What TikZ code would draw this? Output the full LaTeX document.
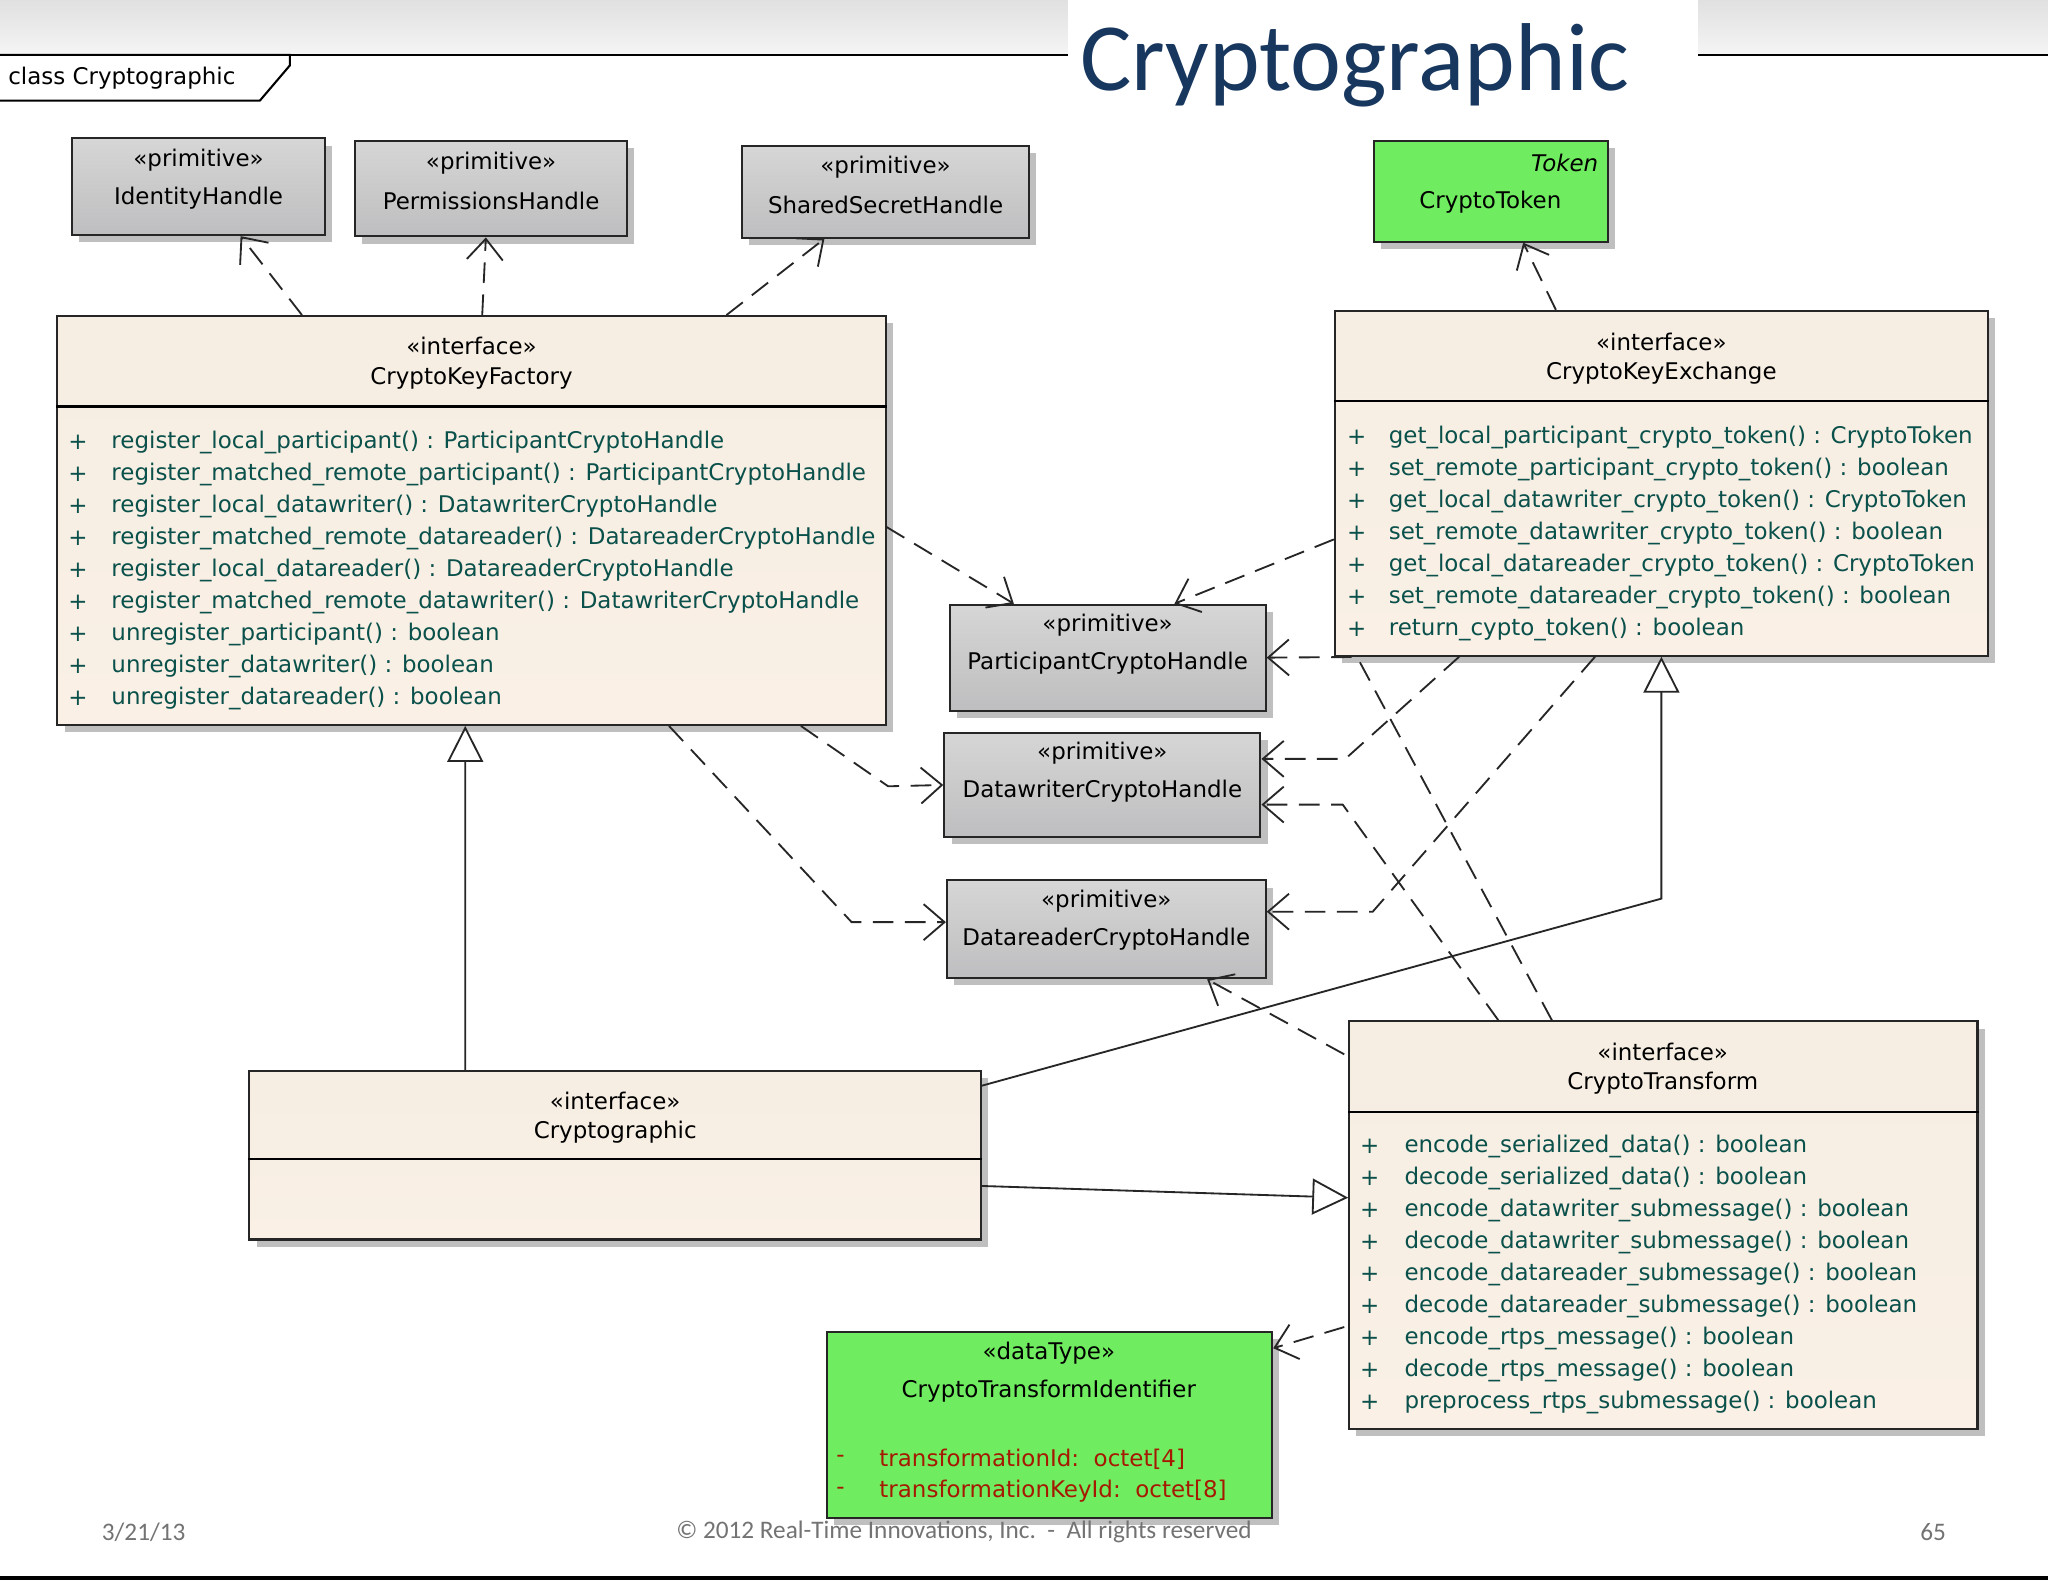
\documentclass[tikz,border=0pt]{standalone}
\usepackage{fontspec}
\setmainfont{DejaVu Sans}
\newfontfamily\slidefont{Carlito}
\usetikzlibrary{calc,arrows.meta,shadows}
\definecolor{titleblue}{RGB}{23,55,94}
\definecolor{primtop}{RGB}{214,214,214}
\definecolor{primbot}{RGB}{190,190,192}
\definecolor{ifacetop}{RGB}{246,238,226}
\definecolor{ifacebot}{RGB}{250,240,230}
\definecolor{tokgreen}{RGB}{112,236,96}
\definecolor{opcol}{RGB}{10,80,75}
\definecolor{attcol}{RGB}{165,25,0}
\tikzset{
  x=0.2mm, y=-0.2mm,
  cls/.style={draw=black!85, line width=0.9pt, inner sep=0pt,
    general shadow={fill=black!25, shadow xshift=1.1mm, shadow yshift=-1.1mm}},
  prim/.style={cls, top color=primtop, bottom color=primbot},
  iface/.style={cls, top color=ifacetop, bottom color=ifacebot},
  green/.style={cls, fill=tokgreen},
  lbl/.style={font=\fontsize{10}{12}\selectfont, inner sep=0pt},
  op/.style={lbl, text=opcol, anchor=west},
  att/.style={lbl, text=attcol, anchor=west},
  dep/.style={draw=black!85, line width=0.8pt, dash pattern=on 9pt off 5pt,
    -{Straight Barb[length=3.2mm,width=5.5mm,line width=0.8pt]}},
  real/.style={draw=black!85, line width=0.8pt,
    -{Triangle[open,length=5.5mm,width=5.5mm,fill=white]}}
}
% one row per operation: #1 x of sign, #2 x of text, #3 first y, #4 prefix, #5 sign, #6 style, #7 rows
\newcommand{\oplist}[7]{%
  \foreach \op [count=\i from 0] in {#7} {
    \node[#6] (#4s\i) at (#1,{#3+24.5*\i}) {#5};
    \node[#6] (#4t\i) at (#2,{#3+24.5*\i}) {\op};
  }}
\begin{document}
\begin{tikzpicture}
  \useasboundingbox (0,0) rectangle (1568,1211);
  \fill[white] (0,0) rectangle (1568,1211);
  \shade[top color=black!12, bottom color=black!4] (0,0) rectangle (1568,42);
  \draw[line width=1pt] (0,42) -- (1568,42);
  \draw[line width=2pt] (0,1208) -- (1568,1208);
  \fill[white] (818,0) rectangle (1300,88);
  \node[text=titleblue, font=\slidefont\fontsize{42}{46}\selectfont] (title)
    at (1037,50) {Cryptographic};

  % frame tab
  \draw[line width=0.9pt, fill=white] (0,42) -- (222,42) -- (222,50)
    -- (199,77) -- (0,77);
  \node[lbl, anchor=west] (frame) at (6,60) {class Cryptographic};

  % the classes
  \node[prim, minimum width=38.8mm, minimum height=14.8mm] (idh) at (152,143) {};
  \node[prim, minimum width=41.6mm, minimum height=14.6mm] (pmh) at (376,144.5) {};
  \node[prim, minimum width=44mm, minimum height=14mm] (ssh) at (678,147) {};
  \node[green, minimum width=35.8mm, minimum height=15.4mm] (ctok) at (1141.5,146.5) {};
  \node[iface, minimum width=126.8mm, minimum height=62.6mm] (ckf) at (361,398.5) {};
  \node[iface, minimum width=100mm, minimum height=52.8mm] (cke) at (1272,370) {};
  \node[prim, minimum width=48.4mm, minimum height=16.2mm] (pch) at (848,503.5) {};
  \node[prim, minimum width=48.4mm, minimum height=16mm] (dwch) at (844,601) {};
  \node[prim, minimum width=48.8mm, minimum height=15mm] (drch) at (847,711.5) {};
  \node[iface, minimum width=112mm, minimum height=25.8mm] (cgr) at (471,884.5) {};
  \node[iface, minimum width=96.2mm, minimum height=62.4mm] (ctr) at (1273.5,938) {};
  \node[green, minimum width=68.2mm, minimum height=28.4mm] (cti) at (803.5,1091) {};

  % compartments
  \draw[line width=0.9pt] ($(ckf.north west)+(0,70)$) -- ($(ckf.north east)+(0,70)$);
  \draw[line width=0.9pt] ($(cke.north west)+(0,70)$) -- ($(cke.north east)+(0,70)$);
  \draw[line width=0.9pt] ($(cgr.north west)+(0,68)$) -- ($(cgr.north east)+(0,68)$);
  \draw[line width=0.9pt] ($(ctr.north west)+(0,70)$) -- ($(ctr.north east)+(0,70)$);

  % headers
  \node[lbl] (idhs) at (152,123) {«primitive»};
  \node[lbl] (idhn) at (152,152) {IdentityHandle};
  \node[lbl] (pmhs) at (376,125) {«primitive»};
  \node[lbl] (pmhn) at (376,154) {PermissionsHandle};
  \node[lbl] (sshs) at (678,128) {«primitive»};
  \node[lbl] (sshn) at (678,157) {SharedSecretHandle};
  \node[lbl, anchor=east, font=\fontsize{10}{12}\selectfont\itshape] (ctoks)
    at (1224,125) {Token};
  \node[lbl] (ctokn) at (1141,155) {CryptoToken};
  \node[lbl] (ckfs) at (361,265) {«interface»};
  \node[lbl] (ckfn) at (361,290) {CryptoKeyFactory};
  \node[lbl] (ckes) at (1272,262) {«interface»};
  \node[lbl] (cken) at (1272,286) {CryptoKeyExchange};
  \node[lbl] (pchs) at (848,479) {«primitive»};
  \node[lbl] (pchn) at (848,508) {ParticipantCryptoHandle};
  \node[lbl] (dwchs) at (844,577) {«primitive»};
  \node[lbl] (dwchn) at (844,606) {DatawriterCryptoHandle};
  \node[lbl] (drchs) at (847,690) {«primitive»};
  \node[lbl] (drchn) at (847,719) {DatareaderCryptoHandle};
  \node[lbl] (cgrs) at (471,843) {«interface»};
  \node[lbl] (cgrn) at (471,867) {Cryptographic};
  \node[lbl] (ctrs) at (1273,805) {«interface»};
  \node[lbl] (ctrn) at (1273,829) {CryptoTransform};
  \node[lbl] (ctis) at (803,1036) {«dataType»};
  \node[lbl] (ctin) at (803,1065) {CryptoTransformIdentifier};

  % operations
  \oplist{52}{85}{339}{ckf}{+}{op}{
    register\_local\_participant() : ParticipantCryptoHandle,
    register\_matched\_remote\_participant() : ParticipantCryptoHandle,
    register\_local\_datawriter() : DatawriterCryptoHandle,
    register\_matched\_remote\_datareader() : DatareaderCryptoHandle,
    register\_local\_datareader() : DatareaderCryptoHandle,
    register\_matched\_remote\_datawriter() : DatawriterCryptoHandle,
    unregister\_participant() : boolean,
    unregister\_datawriter() : boolean,
    unregister\_datareader() : boolean}
  \oplist{1031}{1063}{335}{cke}{+}{op}{
    get\_local\_participant\_crypto\_token() : CryptoToken,
    set\_remote\_participant\_crypto\_token() : boolean,
    get\_local\_datawriter\_crypto\_token() : CryptoToken,
    set\_remote\_datawriter\_crypto\_token() : boolean,
    get\_local\_datareader\_crypto\_token() : CryptoToken,
    set\_remote\_datareader\_crypto\_token() : boolean,
    return\_cypto\_token() : boolean}
  \oplist{1041}{1075}{878}{ctr}{+}{op}{
    encode\_serialized\_data() : boolean,
    decode\_serialized\_data() : boolean,
    encode\_datawriter\_submessage() : boolean,
    decode\_datawriter\_submessage() : boolean,
    encode\_datareader\_submessage() : boolean,
    decode\_datareader\_submessage() : boolean,
    encode\_rtps\_message() : boolean,
    decode\_rtps\_message() : boolean,
    preprocess\_rtps\_submessage() : boolean}
  \oplist{640}{673}{1117}{cti}{-}{att}{
    transformationId:\ \ octet[4],
    transformationKeyId:\ \ octet[8]}

  % dependencies
  \draw[dep] ($(ckf.north west)+(188,0)$) -- ($(idh.south west)+(130,0)$);
  \draw[dep] ($(ckf.north west)+(326,0)$) -- ($(pmh.south)+(-4,0)$);
  \draw[dep] ($(ckf.north west)+(513,0)$) -- ($(ssh.south west)+(64,0)$);
  \draw[dep] ($(cke.north west)+(170,0)$) -- ($(ctok.south west)+(115,0)$);
  \draw[dep] ($(ckf.east)+(0,5)$) -- ($(pch.north west)+(50,0)$);
  \draw[dep] ($(cke.west)+(0,43)$) -- ($(pch.north west)+(173,0)$);
  \draw[dep] ($(ctr.north west)+(156,0)$) -- (1039,503) -- (pch.east);
  \draw[dep] ($(ckf.south west)+(570,0)$) -- (680,602) -- (dwch.west);
  \draw[dep] ($(ckf.south west)+(469,0)$) -- (652,706) -- ($(drch.west)+(0,-5.5)$);
  \draw[dep] ($(cke.south west)+(96,0)$) -- (1030,581) -- ($(dwch.east)+(0,-20)$);
  \draw[dep] ($(ctr.north west)+(115,0)$) -- (1028,616) -- ($(dwch.east)+(0,15)$);
  \draw[dep] ($(cke.south west)+(200,0)$) -- (1051,698) -- ($(drch.east)+(0,-13.5)$);
  \draw[dep] ($(ctr.north west)+(-3,26)$) -- ($(drch.south west)+(200,0)$);
  \draw[dep] ($(ctr.west)+(-3,78)$) -- ($(cti.north east)+(0,13)$);

  % realizations
  \draw[real] ($(cgr.north west)+(166,0)$) -- ($(ckf.south west)+(313,0)$);
  \draw[real] ($(cgr.north east)+(0,12)$) -- (1272,688) -- (cke.south);
  \draw[real] ($(cgr.east)+(0,23.5)$) -- ($(ctr.west)+(0,-21)$);

  % footer
  \node[text=black!55, font=\slidefont\fontsize{11}{13}\selectfont] (date) at (110,1173) {3/21/13};
  \node[text=black!55, font=\slidefont\fontsize{11}{13}\selectfont] (copy) at (738,1173)
    {© 2012 Real-Time Innovations, Inc.\ \ -\ \ All rights reserved};
  \node[text=black!55, font=\slidefont\fontsize{11}{13}\selectfont] (page) at (1480,1173) {65};
\end{tikzpicture}
\end{document}
